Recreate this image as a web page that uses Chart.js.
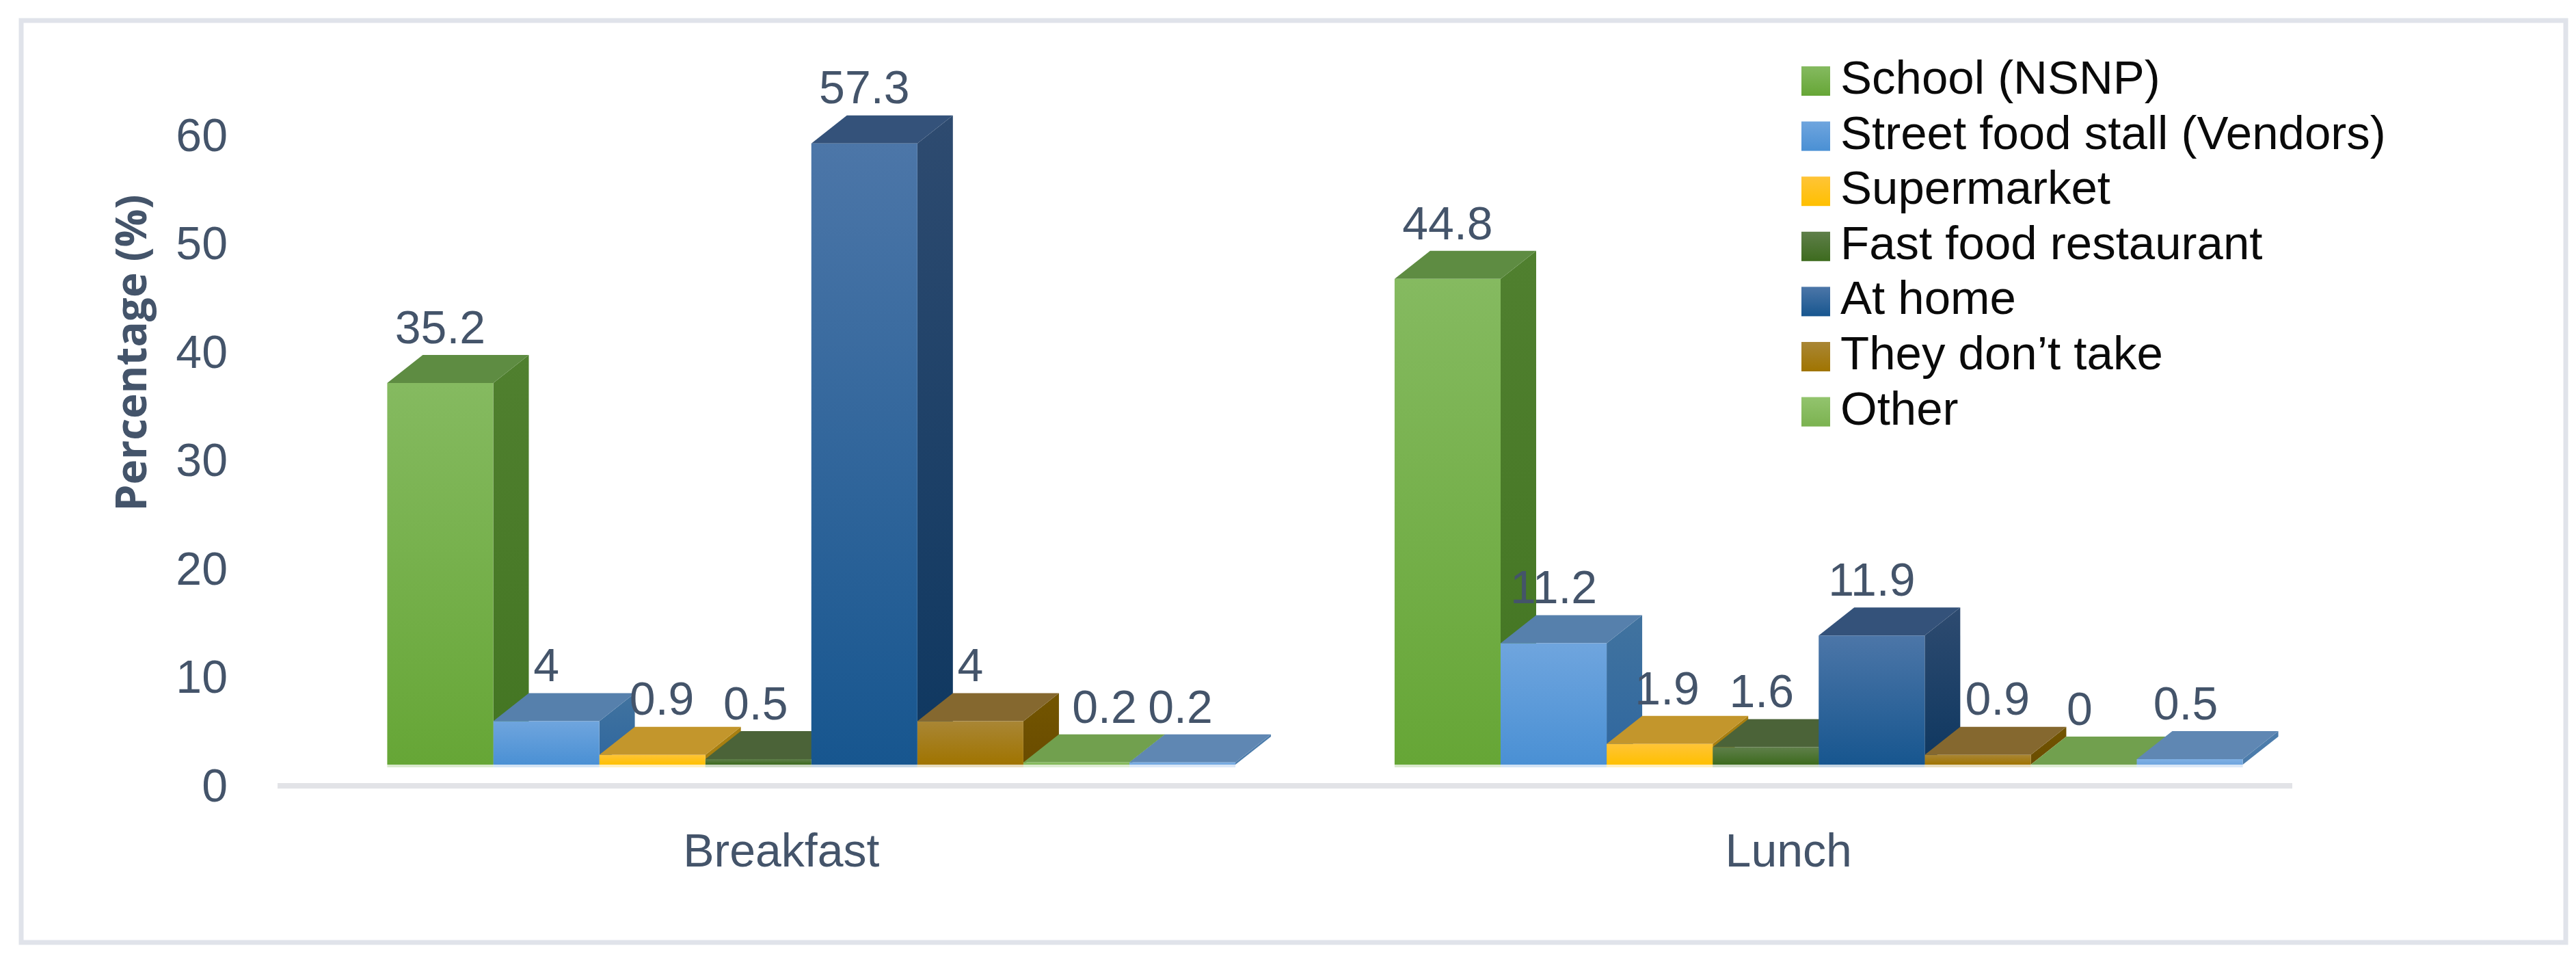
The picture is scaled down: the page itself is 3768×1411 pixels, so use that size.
<!DOCTYPE html>
<html>
<head>
<meta charset="utf-8">
<title>Place of breakfast and lunch</title>
<script src="https://cdn.jsdelivr.net/npm/chart.js@4"></script>
<style>
    html, body { margin: 0; padding: 0; background: #fff; }
    canvas { display: block; }
</style>
</head>
<body>
<canvas id="placeChart" width="3768" height="1411"></canvas>
<script>
// Chart data
const categories = ['Breakfast', 'Lunch'];
const seriesNames = ['School (NSNP)', 'Street food stall (Vendors)', 'Supermarket', 'Fast food restaurant', 'At home', 'They don\u2019t take', 'Other', ''];
const school = [35.2, 44.8];
const streetFood = [4, 11.2];
const supermarket = [0.9, 1.9];
const fastFood = [0.5, 1.6];
const atHome = [57.3, 11.9];
const dontTake = [4, 0.9];
const other = [0.2, 0];
const unnamed = [0.2, 0.5];
const yTicks = [0, 10, 20, 30, 40, 50, 60];

// front top, front bottom, side top, side bottom, top face
const palette = [
    ['#85ba60', '#66a636', '#50802f', '#437522', '#5e8c42'],
    ['#6fa5de', '#4a90d4', '#41739f', '#2f679f', '#5680ac'],
    ['#ffc437', '#ffc000', '#a87f10', '#a87f10', '#c3962c'],
    ['#5f7f4a', '#3d6b1e', '#2f4a1c', '#2f4a1c', '#4b6338'],
    ['#4c76a8', '#17568f', '#2e4b70', '#0e3760', '#34527a'],
    ['#a98635', '#a07400', '#735500', '#6a4c00', '#85682f'],
    ['#93c46e', '#7bb250', '#5e8c42', '#5e8c42', '#71a04e'],
    ['#7fb0e4', '#6fa5de', '#4c7cab', '#4c7cab', '#5f87b3']
];

const textColor = '#44546a';
const frameColor = '#e0e3ea';
const tickFont = { family: '"Liberation Sans"', size: 68 };
const depthX = 52;
const depthY = 41;
const axisShift = 44;   // axis line and category labels sit left of the bars
// hand moved data labels: dataset index -> [breakfast, lunch]
const labelNudge = { 2: [14, 11], 3: [-4, -6], 5: [0, 29], 6: [41, -6], 7: [-3, -6] };

const frontFill = (context) => {
    const c = palette[context.datasetIndex];
    if (!context.parsed) return c[0];
    const y = context.chart.scales.yBars;
    const top = y.getPixelForValue(context.parsed.y);
    const bottom = y.getPixelForValue(0);
    // first pass runs before the scales have a size
    if (!isFinite(top) || !isFinite(bottom)) return c[0];
    const g = context.chart.ctx.createLinearGradient(0, top, 0, bottom);
    g.addColorStop(0, c[0]);
    g.addColorStop(1, c[1]);
    return g;
};

const seriesValues = [school, streetFood, supermarket, fastFood, atHome, dontTake, other, unnamed];
const datasets = seriesValues.map((values, i) => ({
    label: seriesNames[i],
    data: values,
    yAxisID: 'yBars',
    backgroundColor: frontFill,
    borderWidth: 0
}));

// Frame and axis line
const framePlugin = {
    id: 'frame',
    beforeDraw(chart) {
        const { ctx, width, height, chartArea, scales } = chart;
        ctx.save();
        ctx.fillStyle = '#fff';
        ctx.fillRect(0, 0, width, height);
        ctx.strokeStyle = frameColor;
        ctx.lineWidth = 7;
        ctx.strokeRect(31, 30, width - 46, height - 63);
        ctx.fillStyle = '#e2e3e7';
        ctx.fillRect(scales.x.left - axisShift, chartArea.bottom - 4, scales.x.width, 8);
        ctx.restore();
    }
};

// Side and top faces of each bar, the library paints the front over them
const facesPlugin = {
    id: 'faces',
    beforeDatasetsDraw(chart) {
        const { ctx } = chart;
        ctx.save();
        categories.forEach((cat, index) => {
            chart.data.datasets.forEach((ds, i) => {
                const bar = chart.getDatasetMeta(i).data[index];
                const c = palette[i];
                const left = bar.x - bar.width / 2;
                const right = bar.x + bar.width / 2;

                // pale reflection under the bar
                ctx.globalAlpha = 0.25;
                ctx.fillStyle = c[1];
                ctx.fillRect(left, bar.base, bar.width, 4);
                ctx.globalAlpha = 1;

                const side = ctx.createLinearGradient(0, bar.y - depthY, 0, bar.base);
                side.addColorStop(0, c[2]);
                side.addColorStop(1, c[3]);
                ctx.fillStyle = side;
                ctx.beginPath();
                ctx.moveTo(right, bar.y);
                ctx.lineTo(right + depthX, bar.y - depthY);
                ctx.lineTo(right + depthX, bar.base - depthY);
                ctx.lineTo(right, bar.base);
                ctx.closePath();
                ctx.fill();

                ctx.fillStyle = c[4];
                ctx.beginPath();
                ctx.moveTo(left, bar.y);
                ctx.lineTo(left + depthX, bar.y - depthY);
                ctx.lineTo(right + depthX, bar.y - depthY);
                ctx.lineTo(right, bar.y);
                ctx.closePath();
                ctx.fill();
            });
        });
        ctx.restore();
    }
};

// Value labels, axis title and legend
const textPlugin = {
    id: 'texts',
    afterDatasetsDraw(chart) {
        const { ctx } = chart;
        ctx.save();
        ctx.textAlign = 'center';
        ctx.textBaseline = 'middle';
        ctx.fillStyle = textColor;
        ctx.font = '68px ' + tickFont.family;
        chart.data.datasets.forEach((ds, i) => {
            chart.getDatasetMeta(i).data.forEach((bar, index) => {
                const nudge = labelNudge[i] ? labelNudge[i][index] : 0;
                ctx.fillText(String(ds.data[index]), bar.x + nudge, bar.y - depthY - 36);
            });
        });

        ctx.save();
        ctx.translate(196, 516);
        ctx.rotate(-Math.PI / 2);
        ctx.font = 'bold 62px "Open Sans"';
        ctx.fillText('Percentage (%)', 0, 0);
        ctx.restore();

        ctx.textAlign = 'left';
        ctx.font = '69px ' + tickFont.family;
        seriesNames.forEach((name, i) => {
            if (!name) return;
            const top = 97 + i * 80.6;
            const g = ctx.createLinearGradient(0, top, 0, top + 43);
            g.addColorStop(0, palette[i][0]);
            g.addColorStop(1, palette[i][1]);
            ctx.fillStyle = g;
            ctx.fillRect(2635, top, 42, 43);
            ctx.fillStyle = '#0a0a0a';
            ctx.fillText(name, 2692, top + 21);
        });
        ctx.restore();
    }
};

new Chart(document.getElementById('placeChart').getContext('2d'), {
    type: 'bar',
    data: { labels: categories, datasets: datasets },
    plugins: [framePlugin, facesPlugin, textPlugin],
    options: {
        responsive: false,
        animation: false,
        devicePixelRatio: 1,
        categoryPercentage: 0.842,
        barPercentage: 1,
        layout: { padding: { top: 198, right: 371, left: 0, bottom: 0 } },
        plugins: { legend: { display: false }, tooltip: { enabled: false } },
        scales: {
            x: {
                grid: { display: false, drawTicks: false },
                border: { display: false },
                afterFit(scale) { scale.height = 262; },
                ticks: { color: textColor, font: tickFont, labelOffset: -axisShift, padding: 58, maxRotation: 0 }
            },
            y: {
                min: yTicks[0],
                max: yTicks[yTicks.length - 1],
                grid: { display: false, drawTicks: false },
                border: { display: false },
                afterFit(scale) { scale.width = 450; },
                afterBuildTicks(scale) { scale.ticks = yTicks.map((v) => ({ value: v })); },
                ticks: { color: textColor, font: tickFont, padding: 117, labelOffset: 4 }
            },
            // bars stand on a floor above the printed zero, same scale as y
            yBars: {
                display: false,
                min: -1.96,
                max: 58.04
            }
        }
    }
});
</script>
</body>
</html>
